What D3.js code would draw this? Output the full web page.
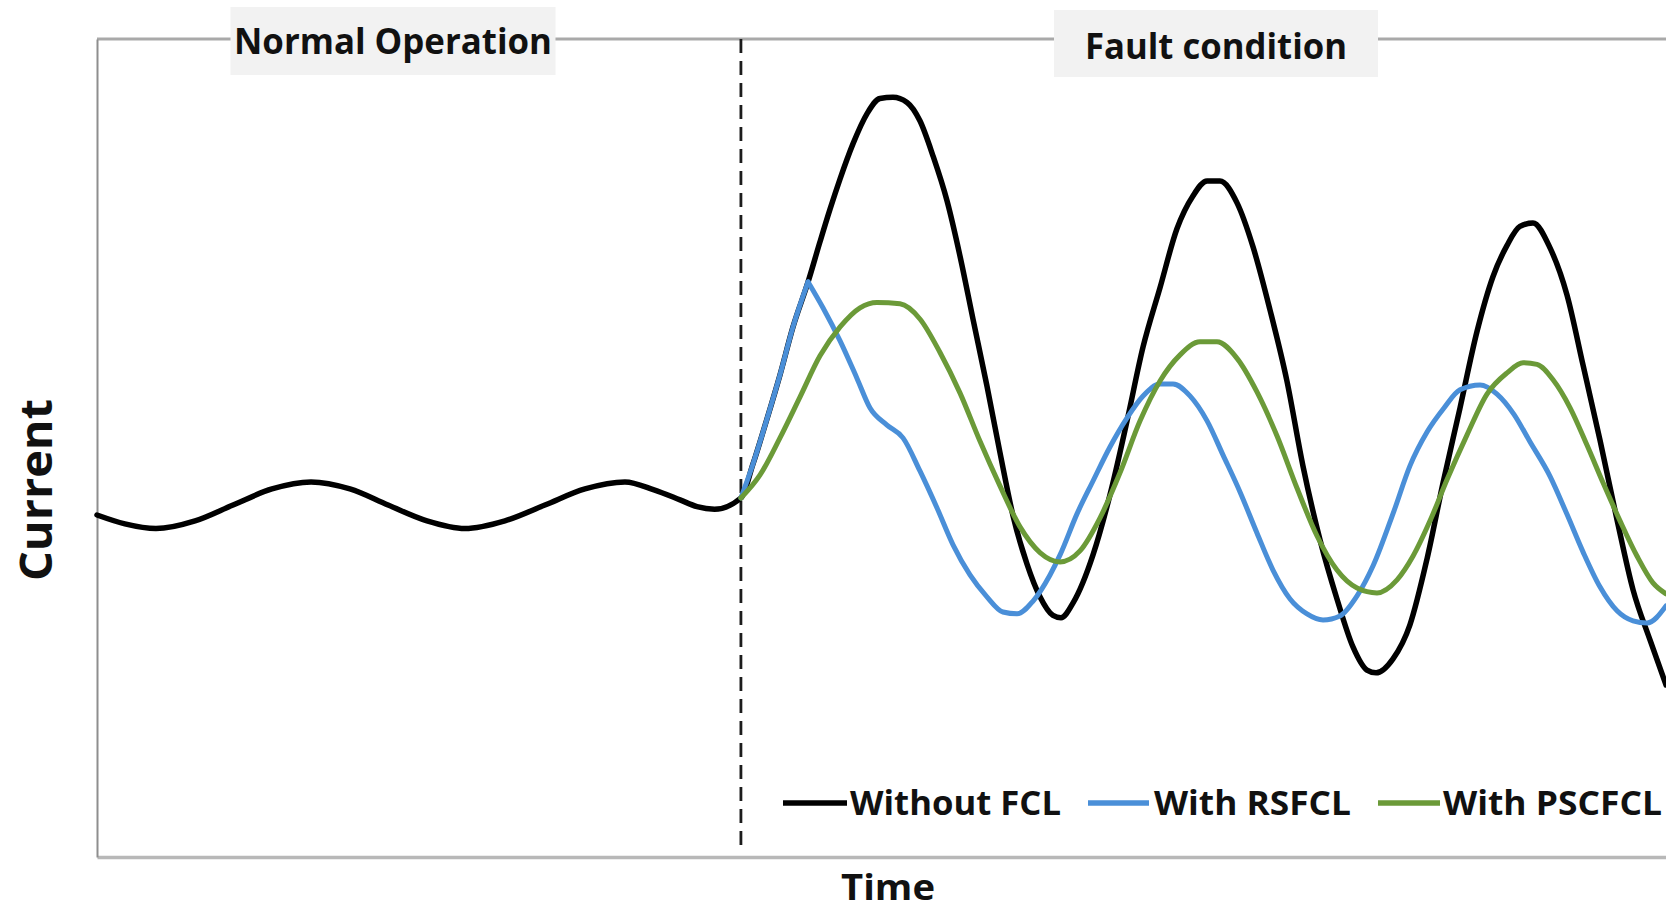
<!DOCTYPE html>
<html>
<head>
<meta charset="utf-8">
<script src="https://cdn.jsdelivr.net/npm/d3@7"></script>
<style>
  html, body { margin: 0; padding: 0; background: #ffffff; }
  svg { display: block; }
  text { font-family: "Open Sans", "DejaVu Sans", sans-serif; font-weight: 700; fill: #111111; }
</style>
</head>
<body>
<svg id="chart" width="1666" height="912"></svg>
<script>
// Time in ms, current in p.u. of the pre-fault peak.
const faultTime = 41.04;

// Without fault current limiter: steady state, then the unrestricted fault current
const withoutFCL = [
  [0, -0.42], [1.78, -0.80], [3.76, -1.00], [6.25, -0.67], [8.67, 0.01], [11.15, 0.70],
  [13.64, 1.00], [16.12, 0.70], [18.55, 0.01], [21.03, -0.67], [23.45, -1.00], [26.0, -0.67],
  [28.55, 0.01], [31.1, 0.70], [33.65, 1.00], [35.5, 0.66], [37.16, 0.23], [38.24, -0.06],
  [39.36, -0.17], [41.04, 0.31],
  [41.81, 1.77], [42.70, 3.70], [43.53, 5.59], [44.36, 7.65], [45.32, 9.58], [46.08, 11.3],
  [46.72, 12.7], [47.36, 14.0], [48.18, 15.5], [49.08, 16.8], [49.90, 17.45], [50.73, 17.5],
  [51.63, 17.28], [52.45, 16.49], [53.28, 14.99], [54.18, 13.05], [55.0, 10.70], [55.83, 7.99],
  [56.72, 5.12], [57.55, 2.26], [58.38, -0.44], [59.27, -2.52], [60.10, -3.93], [60.93, -4.73],
  [61.44, -4.83], [62.21, -4.19], [63.48, -2.13], [64.56, 0.44], [65.65, 3.62], [66.67, 6.79],
  [67.75, 9.33], [68.83, 11.86], [69.85, 13.27], [70.75, 13.91], [71.57, 13.91], [72.66, 12.97],
  [73.68, 11.08], [74.76, 8.38], [75.84, 5.33], [76.86, 1.69], [77.95, -1.49], [79.03, -4.02],
  [80.05, -6.08], [80.94, -7.07], [81.52, -7.19], [82.60, -6.59], [83.68, -5.13], [84.77, -2.30],
  [85.79, 0.96], [86.87, 4.17], [87.95, 7.44], [88.97, 9.80], [89.87, 11.15], [90.69, 11.96],
  [91.52, 12.11], [92.61, 11.04], [93.69, 9.02], [94.71, 6.02], [95.79, 2.80], [96.88, -0.63],
  [97.90, -3.63], [98.98, -5.78], [100.0, -7.71]
];

// With resistive SFCL: follows the prospective current until quench, then limited
const withRSFCL = [
  [41.04, 0.31], [41.81, 1.77], [42.70, 3.70], [43.53, 5.59], [44.36, 7.65], [45.32, 9.58],
  [46.27, 8.47], [47.36, 7.05], [48.44, 5.44], [49.27, 4.17], [50.35, 3.44], [51.37, 2.89],
  [52.45, 1.47], [53.54, -0.12], [54.56, -1.70], [55.64, -2.99], [56.72, -3.93], [57.74, -4.58],
  [58.64, -4.66], [59.66, -4.11], [60.74, -2.99], [61.38, -2.13], [62.46, -0.37], [63.48, 1.04],
  [64.56, 2.50], [65.65, 3.75], [66.67, 4.69], [67.75, 5.20], [68.58, 5.20], [69.66, 4.69],
  [70.75, 3.62], [71.77, 2.15], [72.85, 0.57], [73.93, -1.19], [74.95, -2.78], [76.04, -4.02],
  [77.12, -4.66], [78.14, -4.92], [79.22, -4.75], [80.31, -3.89], [81.33, -2.60], [82.66, -0.25],
  [83.68, 1.69], [84.77, 3.14], [85.85, 4.17], [86.87, 4.95], [88.15, 5.16], [89.23, 4.77],
  [90.31, 3.90], [91.33, 2.72], [92.61, 1.24], [93.69, -0.39], [94.71, -2.00], [95.79, -3.50],
  [96.88, -4.53], [97.90, -4.96], [98.79, -5.05], [100.0, -4.32]
];

// With PSCFCL: limited from the first half-cycle
const withPSCFCL = [
  [41.04, 0.31], [42.26, 1.30], [43.53, 2.89], [44.81, 4.65], [46.08, 6.41], [47.36, 7.65],
  [48.63, 8.47], [49.71, 8.70], [51.18, 8.64], [52.45, 7.99], [53.73, 6.55], [55.0, 4.82],
  [56.28, 2.74], [57.55, 0.83], [58.83, -0.93], [60.10, -2.03], [61.38, -2.43], [62.65, -1.96],
  [63.93, -0.54], [65.20, 1.39], [66.48, 3.62], [67.75, 5.33], [69.03, 6.45], [70.30, 7.01],
  [71.38, 7.01], [72.66, 6.30], [73.93, 4.86], [75.21, 2.97], [76.48, 0.74], [77.76, -1.32],
  [79.03, -2.78], [80.31, -3.55], [81.58, -3.76], [82.86, -3.20], [83.88, -2.18], [84.96, -0.67],
  [86.04, 1.09], [87.32, 3.02], [88.59, 4.77], [89.87, 5.68], [90.89, 6.11], [91.78, 6.04],
  [92.80, 5.38], [93.88, 4.19], [94.97, 2.57], [95.99, 0.96], [97.07, -0.67], [98.15, -2.18],
  [99.17, -3.33], [100.0, -3.80]
];

const seriesNames = ["Without FCL", "With RSFCL", "With PSCFCL"];
const seriesColors = ["#000000", "#4a8fd8", "#6b9a38"];
const regionLabels = ["Normal Operation", "Fault condition"];
const axisTitles = ["Time", "Current"];

// ---- layout ----
const W = 1666, H = 912;
const plot = { left: 97, right: 1666, top: 39, bottom: 857 };

const svg = d3.select("#chart");

const x = d3.scaleLinear().domain([0, 100]).range([plot.left, plot.right]);
const y = d3.scaleLinear().domain([-15.09, 20]).range([plot.bottom, plot.top]);

// plot frame (open on the right)
svg.append("line")
  .attr("x1", plot.left).attr("x2", W + 10)
  .attr("y1", plot.top).attr("y2", plot.top)
  .attr("stroke", "#a9a9a9").attr("stroke-width", 3);

const xAxis = svg.append("g")
  .attr("transform", `translate(0,${plot.bottom})`)
  .call(d3.axisBottom(x).ticks(0).tickSize(0).tickSizeOuter(0));
xAxis.select(".domain").attr("stroke", "#b8b8b8").attr("stroke-width", 3.5);
xAxis.selectAll("text").remove();

const yAxis = svg.append("g")
  .attr("transform", `translate(${plot.left},0)`)
  .call(d3.axisLeft(y).ticks(0).tickSize(0).tickSizeOuter(0));
yAxis.select(".domain").attr("stroke", "#8e8e8e").attr("stroke-width", 2);
yAxis.selectAll("text").remove();

// fault inception marker
svg.append("line")
  .attr("x1", x(faultTime)).attr("x2", x(faultTime))
  .attr("y1", plot.top).attr("y2", plot.bottom - 9)
  .attr("stroke", "#1c1c1c").attr("stroke-width", 2.8)
  .attr("stroke-dasharray", "14,8");

// current waveforms; the RSFCL trace is split at its quench peak so the
// peak stays a sharp corner
function splitAtPeak(data) {
  const k = d3.maxIndex(data, d => d[1]);
  return [data.slice(0, k + 1), data.slice(k)];
}

const series = [
  { name: seriesNames[0], parts: [withoutFCL], color: seriesColors[0], width: 5.5 },
  { name: seriesNames[1], parts: splitAtPeak(withRSFCL), color: seriesColors[1], width: 5.0 },
  { name: seriesNames[2], parts: [withPSCFCL], color: seriesColors[2], width: 5.0 }
];

const line = d3.line().x(d => x(d[0])).y(d => y(d[1])).curve(d3.curveMonotoneX);

series.forEach(s => {
  const g = svg.append("g").attr("class", "series");
  s.parts.forEach(part => {
    g.append("path")
      .datum(part)
      .attr("d", line)
      .attr("fill", "none")
      .attr("stroke", s.color)
      .attr("stroke-width", s.width)
      .attr("stroke-linejoin", "round")
      .attr("stroke-linecap", "round");
  });
});

// region captions on the top edge
const captions = [
  { text: regionLabels[0], cx: 393, box: [230.5, 7, 325, 68], baseline: 54, width: 318 },
  { text: regionLabels[1], cx: 1216, box: [1054, 10, 324, 67], baseline: 58.5, width: 262 }
];
captions.forEach(c => {
  svg.append("rect")
    .attr("x", c.box[0]).attr("y", c.box[1])
    .attr("width", c.box[2]).attr("height", c.box[3])
    .attr("fill", "#f2f2f2");
  svg.append("text")
    .attr("x", c.cx).attr("y", c.baseline)
    .attr("text-anchor", "middle")
    .attr("font-size", 35)
    .attr("textLength", c.width).attr("lengthAdjust", "spacingAndGlyphs")
    .text(c.text);
});

// axis titles
svg.append("text")
  .attr("x", 888).attr("y", 900)
  .attr("text-anchor", "middle")
  .attr("font-size", 35)
  .attr("textLength", 94).attr("lengthAdjust", "spacingAndGlyphs")
  .text(axisTitles[0]);

svg.append("text")
  .attr("transform", "translate(52,490) rotate(-90)")
  .attr("text-anchor", "middle")
  .attr("font-size", 45)
  .attr("textLength", 182).attr("lengthAdjust", "spacingAndGlyphs")
  .text(axisTitles[1]);

// legend
const legendItems = [
  { x0: 783, x1: 847, tx: 850, tw: 211 },
  { x0: 1088, x1: 1149, tx: 1154, tw: 197 },
  { x0: 1378, x1: 1440, tx: 1443, tw: 219 }
];
const legendY = 803;
legendItems.forEach((it, k) => {
  svg.append("line")
    .attr("x1", it.x0).attr("x2", it.x1)
    .attr("y1", legendY).attr("y2", legendY)
    .attr("stroke", seriesColors[k]).attr("stroke-width", 5.5);
  svg.append("text")
    .attr("x", it.tx).attr("y", legendY + 12)
    .attr("font-size", 34)
    .attr("textLength", it.tw).attr("lengthAdjust", "spacingAndGlyphs")
    .text(seriesNames[k]);
});
</script>
</body>
</html>
